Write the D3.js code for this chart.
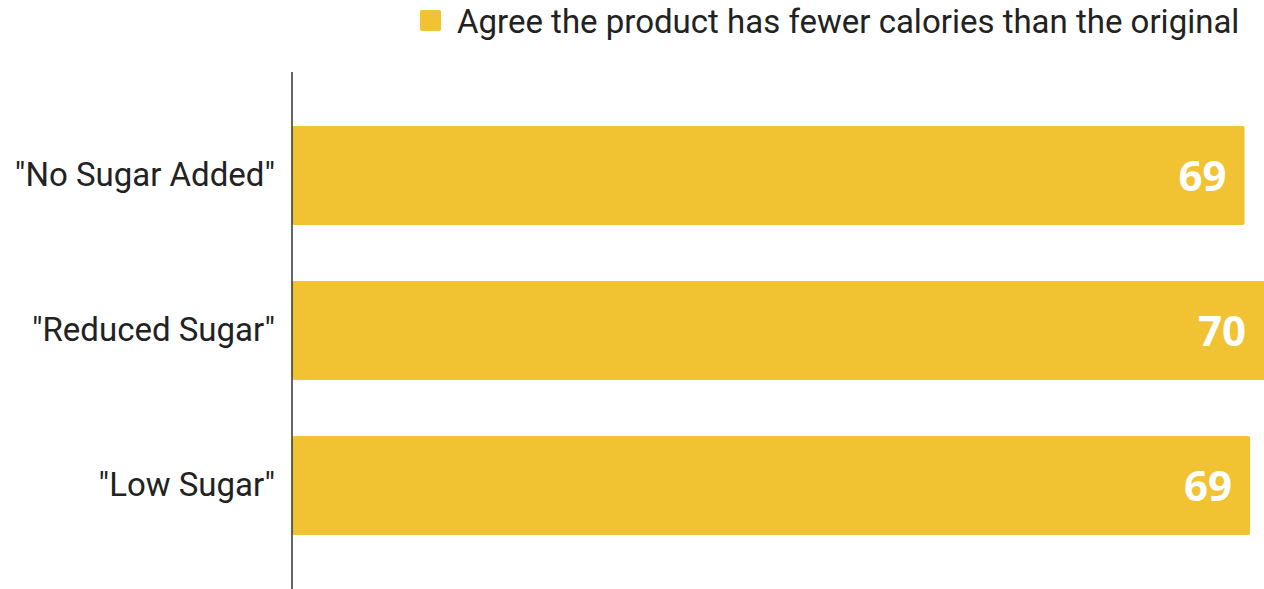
<!DOCTYPE html>
<html>
<head>
<meta charset="utf-8">
<script src="https://cdn.jsdelivr.net/npm/d3@7/dist/d3.min.js"></script>
<style>
  html, body { margin: 0; padding: 0; background: #fff; overflow: hidden; }
  svg { display: block; }
</style>
</head>
<body>
<svg id="chart" width="1264" height="589"></svg>
<script>
// Share of respondents agreeing each claim implies fewer calories
const categories = ['"No Sugar Added"', '"Reduced Sugar"', '"Low Sugar"'];
const agreeValues = [68.6, 70.2, 69.0];
const seriesName = "Agree the product has fewer calories than the original";
const barColor = "#F1C232";

const width = 1264, height = 589;
const svg = d3.select("#chart");

const x = d3.scaleLinear().domain([0, 70]).range([292, 1264]);
const y = d3.scaleBand().domain(categories).range([98, 563]).paddingInner(0.36).paddingOuter(0.18);

// bars
svg.append("g").selectAll("rect")
  .data(categories)
  .join("rect")
  .attr("x", x(0))
  .attr("y", d => y(d))
  .attr("width", (d, i) => x(agreeValues[i]) - x(0))
  .attr("height", y.bandwidth())
  .attr("rx", 2)
  .attr("fill", barColor);

// value labels inside bar ends
svg.append("g").selectAll("text")
  .data(categories)
  .join("text")
  .attr("x", (d, i) => Math.min(x(agreeValues[i]), width) - 18)
  .attr("y", d => y(d) + y.bandwidth() / 2)
  .attr("dy", "0.36em")
  .attr("text-anchor", "end")
  .attr("fill", "#fff")
  .attr("font-family", "'Open Sans', sans-serif")
  .attr("font-weight", 700)
  .attr("font-size", 42)
  .text((d, i) => d3.format(".0f")(agreeValues[i]));

// category axis
const yAxis = svg.append("g")
  .attr("transform", `translate(${x(0)},0)`)
  .call(d3.axisLeft(y).tickSize(0).tickPadding(17));
yAxis.select(".domain").remove();
yAxis.selectAll("text")
  .attr("font-family", "Roboto, sans-serif")
  .attr("font-size", 33)
  .attr("fill", "#222");

svg.append("line")
  .attr("x1", x(0)).attr("x2", x(0))
  .attr("y1", 72).attr("y2", height)
  .attr("stroke", "#333")
  .attr("stroke-width", 1.5);

// legend
const legend = svg.append("g").attr("transform", "translate(420,10)");
legend.append("rect")
  .attr("width", 21).attr("height", 21).attr("rx", 2)
  .attr("fill", barColor);
legend.append("text")
  .attr("x", 37).attr("y", 11)
  .attr("dy", "0.35em")
  .attr("font-family", "Roboto, sans-serif")
  .attr("font-size", 33)
  .attr("fill", "#222")
  .text(seriesName);
</script>
</body>
</html>
